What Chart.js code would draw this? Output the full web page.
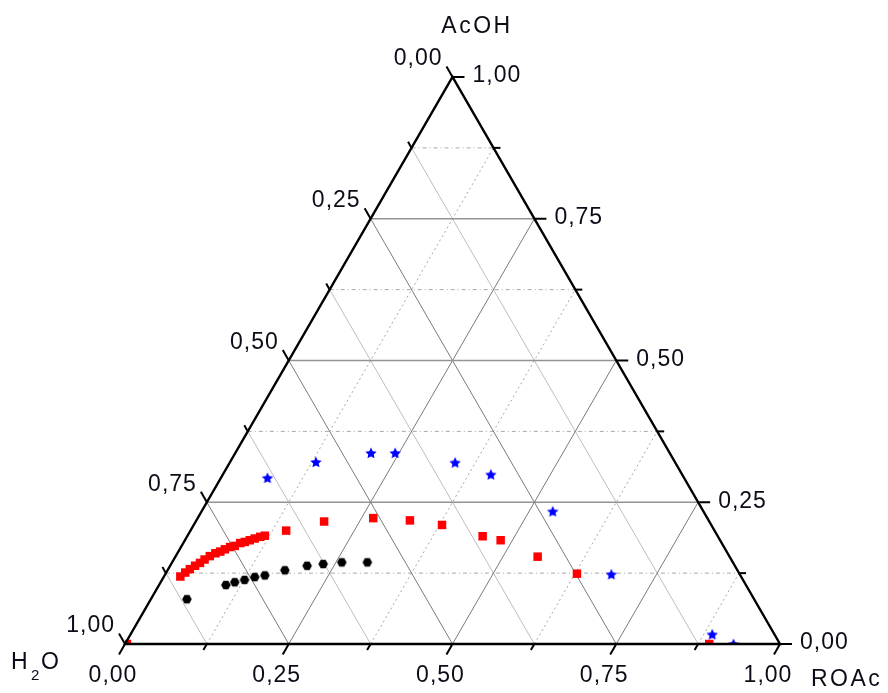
<!DOCTYPE html>
<html>
<head>
<meta charset="utf-8">
<title>AcOH / H2O / ROAc</title>
<script src="https://cdn.jsdelivr.net/npm/chart.js@4.4.1/dist/chart.umd.min.js"></script>
<style>
  html, body { margin: 0; padding: 0; background: #fff; }
  canvas { display: block; }
</style>
</head>
<body>
<canvas id="ternary" width="888" height="693"></canvas>
<script>
// Mole fractions: ROAc (bottom axis) and AcOH (right axis); H2O = 1 - ROAc - AcOH

// black hexagons
const blackROAc = [0.055, 0.102, 0.113, 0.126, 0.139, 0.153, 0.179, 0.209, 0.232, 0.259, 0.298];
const blackAcOH = [0.079, 0.104, 0.109, 0.113, 0.118, 0.121, 0.130, 0.138, 0.141, 0.144, 0.144];

// red squares
const redROAc = [0.003, 0.025, 0.029, 0.033, 0.038, 0.043, 0.047, 0.052, 0.058, 0.064, 0.069, 0.075, 0.081,
  0.087, 0.093, 0.099, 0.105, 0.112, 0.118, 0.146, 0.196, 0.268, 0.326, 0.379, 0.451, 0.482, 0.553, 0.628, 0.892];
const redAcOH = [0.000, 0.119, 0.126, 0.132, 0.138, 0.143, 0.149, 0.155, 0.160, 0.163, 0.167, 0.171, 0.173,
  0.178, 0.180, 0.183, 0.186, 0.189, 0.191, 0.200, 0.216, 0.222, 0.218, 0.210, 0.190, 0.183, 0.154, 0.124, 0.000];

// blue stars
const blueROAc = [0.071, 0.131, 0.207, 0.244, 0.344, 0.409, 0.536, 0.681, 0.888, 0.929];
const blueAcOH = [0.293, 0.321, 0.337, 0.337, 0.320, 0.299, 0.234, 0.123, 0.017, 0.000];

const majorTicks = [0, 0.25, 0.5, 0.75, 1];
const minorTicks = [0.125, 0.375, 0.625, 0.875];
const tickLabels = ['0,00', '0,25', '0,50', '0,75', '1,00'];

const SQ3 = Math.sqrt(3) / 2;
const FONT = '"Liberation Sans", Arial, sans-serif';

// ternary (ROAc, AcOH) -> cartesian point of the equilateral triangle
function toXY(b, a) {
  return { x: b + a / 2, y: a * SQ3 };
}

function buildPoints(bArr, aArr) {
  return bArr.map(function (b, i) { return toXY(b, aArr[i]); });
}

// filled five-point star used as a marker
function makeStar(color, r) {
  const size = Math.ceil(r * 2 + 2);
  const c = document.createElement('canvas');
  c.width = size;
  c.height = size;
  const g = c.getContext('2d');
  const cx = size / 2, cy = size / 2 + 0.5;
  g.beginPath();
  for (let i = 0; i < 10; i++) {
    const rad = i % 2 === 0 ? r : r * 0.48;
    const ang = -Math.PI / 2 + i * Math.PI / 5;
    const px = cx + rad * Math.cos(ang);
    const py = cy + rad * Math.sin(ang);
    if (i === 0) g.moveTo(px, py); else g.lineTo(px, py);
  }
  g.closePath();
  g.fillStyle = color;
  g.fill();
  return c;
}

// filled hexagon used for the black series
function makeHex(color, r) {
  const size = Math.ceil(r * 2 + 2);
  const c = document.createElement('canvas');
  c.width = size;
  c.height = size;
  const g = c.getContext('2d');
  g.beginPath();
  for (let i = 0; i < 6; i++) {
    const ang = i * Math.PI / 3;
    const px = size / 2 + r * Math.cos(ang);
    const py = size / 2 + r * Math.sin(ang);
    if (i === 0) g.moveTo(px, py); else g.lineTo(px, py);
  }
  g.closePath();
  g.fillStyle = color;
  g.fill();
  return c;
}

// pixel position of a ternary point
function pix(chart, b, a) {
  const p = toXY(b, a);
  return { x: chart.scales.x.getPixelForValue(p.x), y: chart.scales.y.getPixelForValue(p.y) };
}

function line(ctx, p1, p2) {
  ctx.beginPath();
  ctx.moveTo(p1.x, p1.y);
  ctx.lineTo(p2.x, p2.y);
  ctx.stroke();
}

// grid lines inside the triangle
const ternaryGrid = {
  id: 'ternaryGrid',
  beforeDatasetsDraw: function (chart) {
    const ctx = chart.ctx;
    ctx.save();
    ctx.lineWidth = 1;

    // minor lines
    minorTicks.forEach(function (t) {
      // constant H2O (solid, light)
      ctx.setLineDash([]);
      ctx.strokeStyle = '#bdbdbd';
      line(ctx, pix(chart, 1 - t, 0), pix(chart, 0, 1 - t));
      // constant ROAc (dotted)
      ctx.setLineDash([2, 3]);
      ctx.strokeStyle = '#a8a8a8';
      line(ctx, pix(chart, t, 0), pix(chart, t, 1 - t));
      // constant AcOH (dash-dot)
      ctx.setLineDash([4, 3, 1, 3]);
      ctx.strokeStyle = '#a8a8a8';
      line(ctx, pix(chart, 0, t), pix(chart, 1 - t, t));
    });

    // major lines
    ctx.setLineDash([]);
    [0.25, 0.5, 0.75].forEach(function (t) {
      ctx.strokeStyle = '#7a7a7a';
      line(ctx, pix(chart, 1 - t, 0), pix(chart, 0, 1 - t));
      line(ctx, pix(chart, t, 0), pix(chart, t, 1 - t));
      ctx.strokeStyle = '#939393';
      ctx.lineWidth = 1.6;
      line(ctx, pix(chart, 0, t), pix(chart, 1 - t, t));
      ctx.lineWidth = 1;
    });
    ctx.restore();
  }
};

// triangle frame, ticks and labels
const ternaryAxes = {
  id: 'ternaryAxes',
  afterDatasetsDraw: function (chart) {
    const ctx = chart.ctx;
    const pH = pix(chart, 0, 0), pR = pix(chart, 1, 0), pA = pix(chart, 0, 1);
    ctx.save();
    ctx.strokeStyle = '#000';
    ctx.lineWidth = 2.4;
    ctx.lineJoin = 'miter';
    ctx.beginPath();
    ctx.moveTo(pH.x, pH.y);
    ctx.lineTo(pR.x, pR.y);
    ctx.lineTo(pA.x, pA.y);
    ctx.closePath();
    ctx.stroke();

    ctx.lineWidth = 2;
    ctx.lineCap = 'butt';
    function ticks(list, len) {
      list.forEach(function (t) {
        // bottom: ROAc, outward down-left
        let p = pix(chart, t, 0);
        line(ctx, p, { x: p.x - 0.5 * len, y: p.y + SQ3 * len });
        // left: H2O, outward up-left
        p = pix(chart, 0, t);
        line(ctx, p, { x: p.x - 0.5 * len, y: p.y - SQ3 * len });
        // right: AcOH, outward to the right
        p = pix(chart, 1 - t, t);
        line(ctx, p, { x: p.x + len, y: p.y });
      });
    }
    ticks(majorTicks, 12);
    ticks(minorTicks, 7);

    ctx.fillStyle = '#0c0c18';
    ctx.font = '23px ' + FONT;
    ctx.letterSpacing = '1px';
    ctx.textBaseline = 'middle';
    majorTicks.forEach(function (t, i) {
      let p = pix(chart, t, 0);
      ctx.textAlign = 'center';
      ctx.fillText(tickLabels[i], p.x - 12, 676);
      p = pix(chart, 0, t);
      ctx.textAlign = 'right';
      ctx.fillText(tickLabels[4 - i], p.x - 10, p.y - 18);
      p = pix(chart, 1 - t, t);
      ctx.textAlign = 'left';
      ctx.fillText(tickLabels[i], p.x + 20, p.y - 1);
    });

    // component names at the corners
    ctx.letterSpacing = '2.5px';
    ctx.textAlign = 'center';
    ctx.fillText('AcOH', 477, 27);
    ctx.textAlign = 'left';
    ctx.fillText('ROAc', 811, 680);
    ctx.letterSpacing = '0px';
    ctx.fillText('H', 11, 663);
    ctx.font = '15px ' + FONT;
    ctx.fillText('2', 31, 676);
    ctx.font = '23px ' + FONT;
    ctx.fillText('O', 41, 663);
    ctx.restore();
  }
};

const ctx = document.getElementById('ternary');
new Chart(ctx, {
  type: 'scatter',
  data: {
    datasets: [
      {
        label: 'black',
        data: buildPoints(blackROAc, blackAcOH),
        pointStyle: makeHex('#000', 4.8),
        backgroundColor: '#000',
        borderColor: '#000'
      },
      {
        label: 'red',
        data: buildPoints(redROAc, redAcOH),
        pointStyle: 'rect',
        pointRadius: 6,
        backgroundColor: '#ff0000',
        borderColor: '#ff0000',
        borderWidth: 0
      },
      {
        label: 'blue',
        data: buildPoints(blueROAc, blueAcOH),
        pointStyle: makeStar('#0000ff', 6),
        backgroundColor: '#0000ff',
        borderColor: '#0000ff'
      }
    ]
  },
  options: {
    responsive: false,
    animation: false,
    layout: { padding: { left: 125, right: 108, top: 77, bottom: 49 } },
    scales: {
      x: { type: 'linear', min: 0, max: 1, display: false },
      y: { type: 'linear', min: 0, max: SQ3, display: false }
    },
    plugins: {
      legend: { display: false },
      tooltip: { enabled: false }
    }
  },
  plugins: [ternaryGrid, ternaryAxes]
});
</script>
</body>
</html>
